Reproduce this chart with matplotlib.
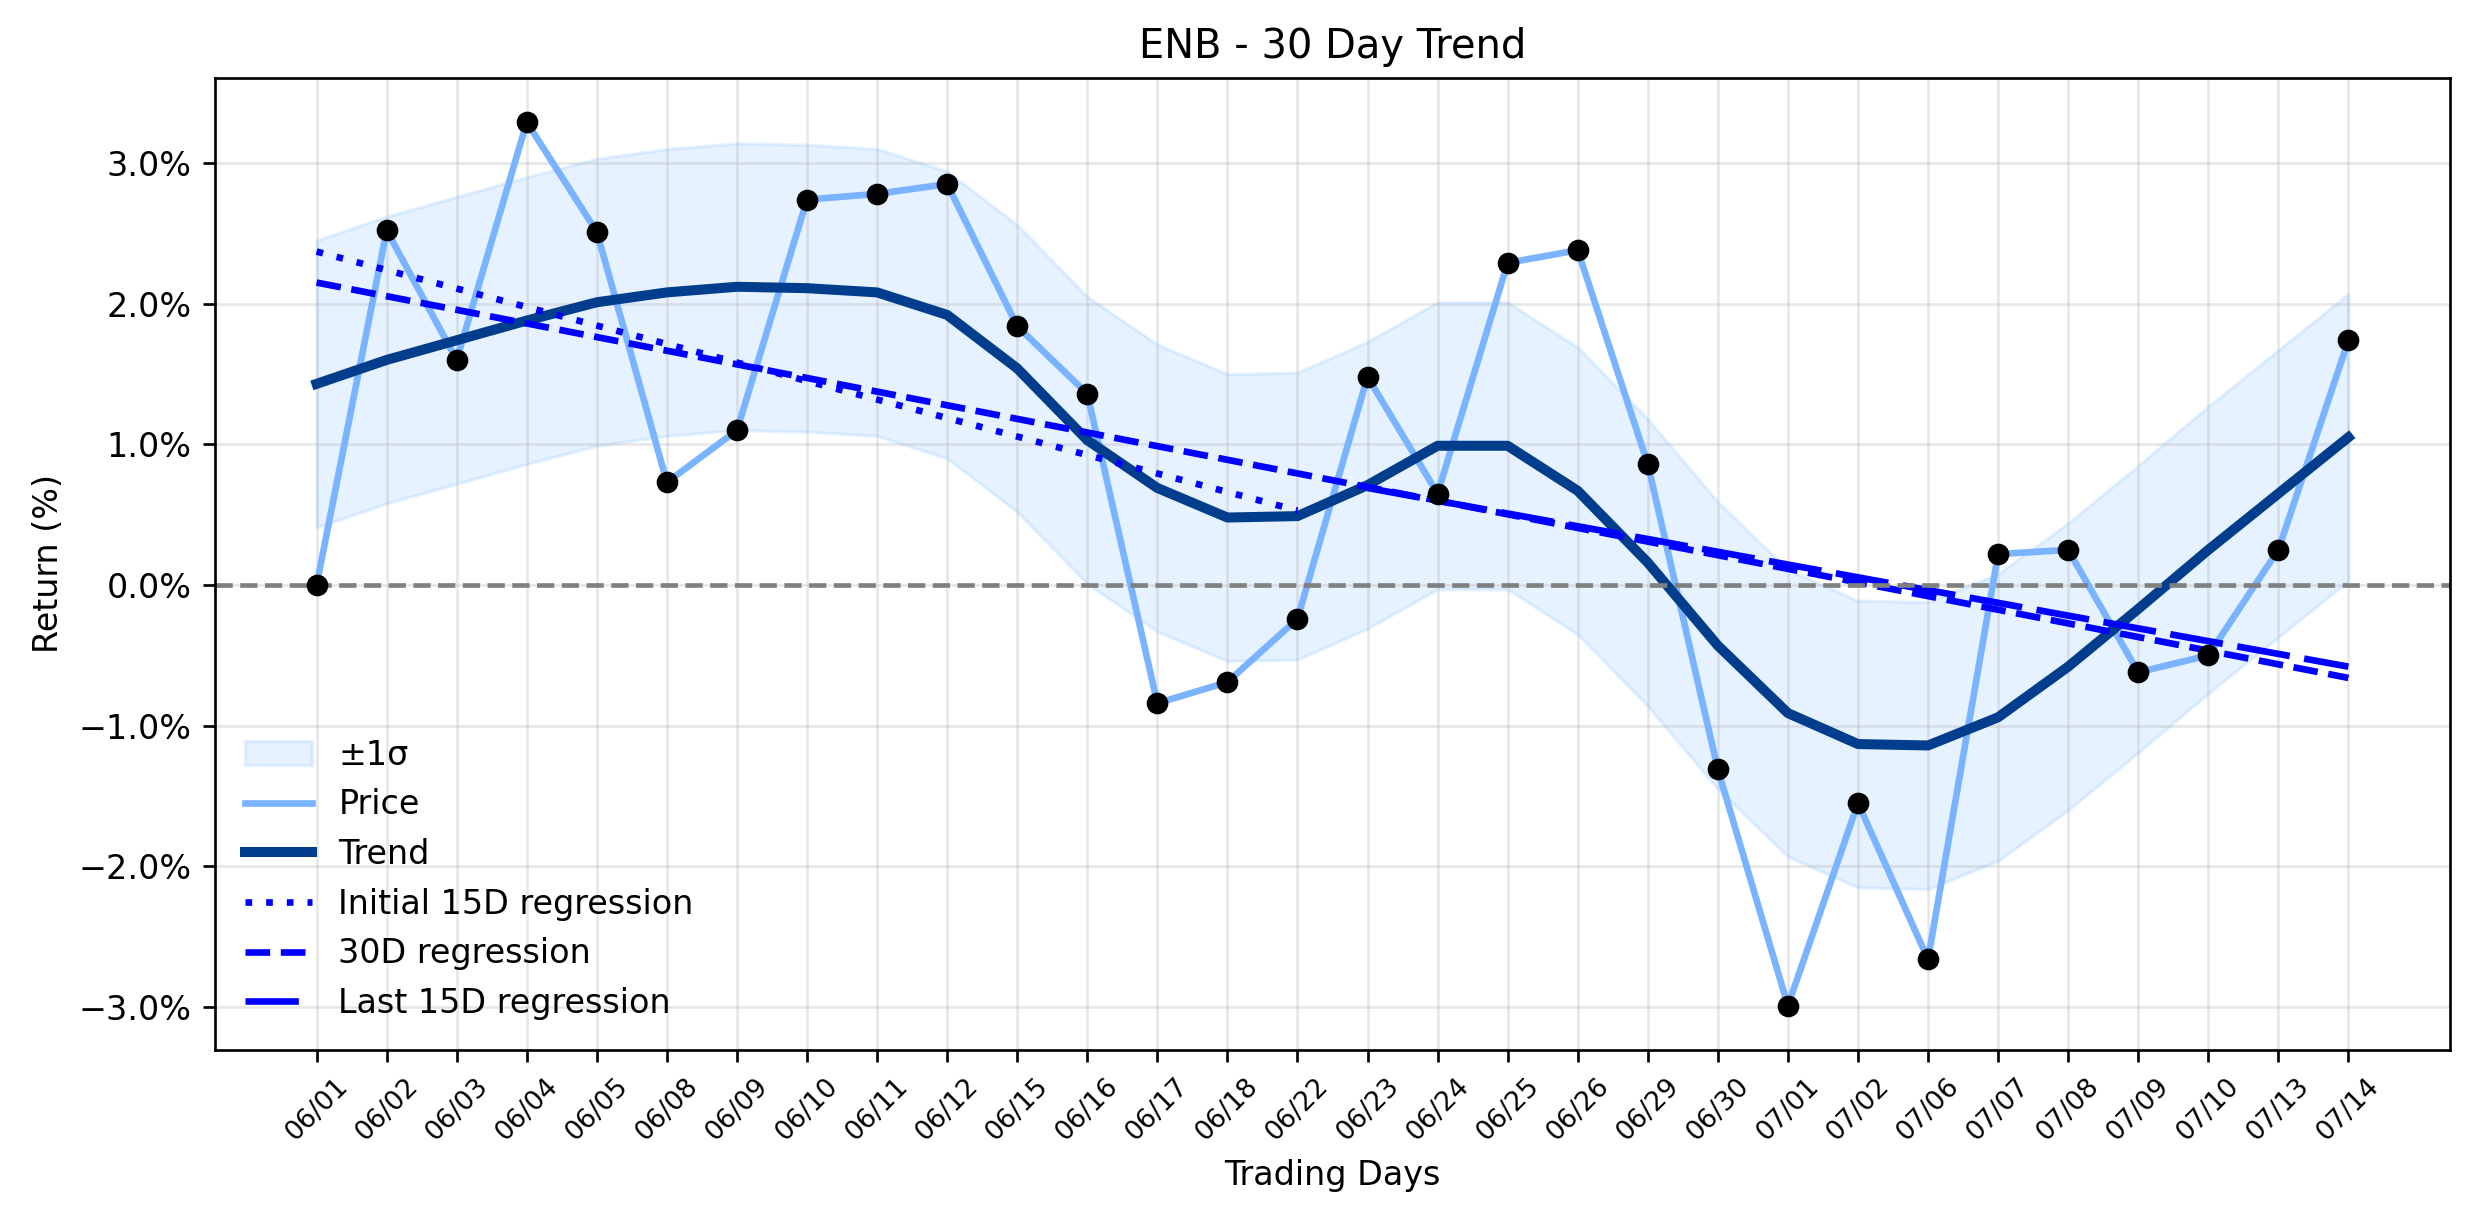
import numpy as np
import matplotlib
matplotlib.use("Agg")
import matplotlib.pyplot as plt
from matplotlib.ticker import PercentFormatter
from matplotlib.patches import Patch
from matplotlib.lines import Line2D

TICKER = "ENB"

dates = ["06/01", "06/02", "06/03", "06/04", "06/05", "06/08", "06/09", "06/10",
         "06/11", "06/12", "06/15", "06/16", "06/17", "06/18", "06/22", "06/23",
         "06/24", "06/25", "06/26", "06/29", "06/30", "07/01", "07/02", "07/06",
         "07/07", "07/08", "07/09", "07/10", "07/13", "07/14"]

# cumulative return (%)
price = [0.00, 2.52, 1.60, 3.29, 2.51, 0.73, 1.10, 2.74, 2.78, 2.85,
         1.84, 1.36, -0.84, -0.69, -0.24, 1.48, 0.65, 2.29, 2.38, 0.86,
         -1.31, -2.99, -1.55, -2.66, 0.22, 0.25, -0.62, -0.50, 0.25, 1.74]

trend = [1.43, 1.60, 1.74, 1.88, 2.01, 2.08, 2.12, 2.11, 2.08, 1.92,
         1.54, 1.03, 0.69, 0.48, 0.49, 0.71, 0.99, 0.99, 0.67, 0.16,
         -0.43, -0.91, -1.13, -1.14, -0.94, -0.58, -0.17, 0.25, 0.65, 1.05]

band_hi = [2.45, 2.62, 2.76, 2.90, 3.03, 3.10, 3.14, 3.13, 3.10, 2.94,
           2.56, 2.05, 1.71, 1.50, 1.51, 1.73, 2.01, 2.01, 1.69, 1.18,
           0.59, 0.11, -0.11, -0.12, 0.08, 0.44, 0.85, 1.27, 1.67, 2.07]

band_lo = [0.41, 0.58, 0.72, 0.86, 0.99, 1.06, 1.10, 1.09, 1.06, 0.90,
           0.52, 0.01, -0.33, -0.54, -0.53, -0.31, -0.03, -0.03, -0.35, -0.86,
           -1.45, -1.93, -2.15, -2.16, -1.96, -1.60, -1.19, -0.77, -0.37, 0.03]

# regression lines: (first day index, last day index) and end values
reg_init_idx = [0, 14]
reg_init_val = [2.37, 0.53]
reg_30_idx = [0, 29]
reg_30_val = [2.15, -0.66]
reg_last_idx = [15, 29]
reg_last_val = [0.69, -0.58]

x = np.arange(len(dates))

fig, ax = plt.subplots(figsize=(2474 / 240, 1224 / 240), dpi=240)
fig.subplots_adjust(left=0.0869, right=0.9903, top=0.9363, bottom=0.1422)

ax.fill_between(x, band_lo, band_hi, color="dodgerblue", alpha=0.11, linewidth=1)
ax.plot(x, price, color="#7ab3ff", lw=2)
ax.plot(x, trend, color="#003d8c", lw=3)
ax.plot(reg_init_idx, reg_init_val, color="blue", lw=2, ls=(0, (1, 2.1)))
ax.plot(reg_30_idx, reg_30_val, color="blue", lw=2, ls="--")
ax.plot(reg_last_idx, reg_last_val, color="blue", lw=2, ls=(0, (8, 2.2)))
ax.plot(x, price, "o", color="black", ms=5.5, zorder=5)
ax.axhline(0, color="gray", ls="--", lw=1.4)

handles = [Patch(facecolor="dodgerblue", alpha=0.11, edgecolor="dodgerblue"),
           Line2D([], [], color="#7ab3ff", lw=2),
           Line2D([], [], color="#003d8c", lw=3),
           Line2D([], [], color="blue", lw=2, ls=(0, (1, 2.1))),
           Line2D([], [], color="blue", lw=2, ls="--"),
           Line2D([], [], color="blue", lw=2, ls=(0, (8, 2.2)))]
labels = ["\u00b11\u03c3", "Price", "Trend", "Initial 15D regression",
          "30D regression", "Last 15D regression"]
ax.legend(handles, labels, loc="lower left", frameon=False)

ax.set_xticks(x)
ax.set_xticklabels(dates, rotation=45, fontsize=8)
ax.yaxis.set_major_formatter(PercentFormatter(decimals=1))
ax.grid(True, alpha=0.3)
ax.set_title("%s - 30 Day Trend" % TICKER)
ax.set_xlabel("Trading Days")
ax.set_ylabel("Return (%)")

fig.savefig("out.png", dpi=240)
